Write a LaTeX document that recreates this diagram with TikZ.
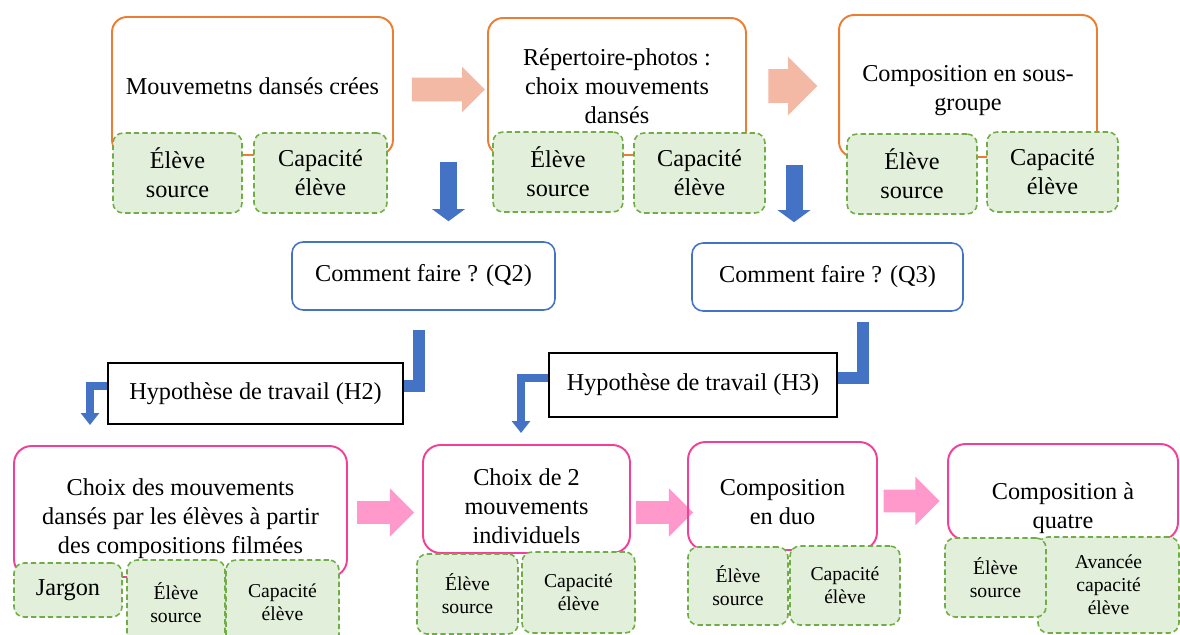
\documentclass[tikz,border=0pt]{standalone}
\usepackage{fontspec}
\setmainfont{Liberation Serif}
\usetikzlibrary{arrows.meta,shapes.arrows}

\definecolor{orangeb}{HTML}{ED7D31}
\definecolor{roseb}{HTML}{F43F97}
\definecolor{saumon}{HTML}{F4B9A5}
\definecolor{rosef}{HTML}{FF99CC}
\definecolor{vertb}{HTML}{70AD47}
\definecolor{vertf}{HTML}{E2EFDA}
\definecolor{bleu}{HTML}{4472C4}

\newcommand\grand{\fontsize{13.8pt}{16.5pt}\selectfont}
\newcommand\petit{\fontsize{11.2pt}{13pt}\selectfont}

\tikzset{
  etape/.style={draw=orangeb,line width=1.1pt,rounded corners=0.3cm,inner sep=0,align=center,font=\grand},
  etapeb/.style={draw=roseb,line width=1.1pt,rounded corners=0.35cm,inner sep=0,align=center,font=\grand},
  critere/.style={draw=vertb,fill=vertf,dash pattern=on 3pt off 1.8pt,line width=0.9pt,rounded corners=0.2cm,inner sep=0,align=center,font=\grand},
  question/.style={draw=bleu,line width=0.9pt,rounded corners=0.22cm,inner sep=0,font=\grand},
  hypo/.style={draw=black,line width=1.1pt,inner sep=0,font=\grand},
  passage/.style={single arrow,fill=saumon,inner xsep=0,inner ysep=0.23cm,single arrow head extend=0.22cm},
  passageb/.style={passage,fill=rosef,inner ysep=0.22cm,single arrow head extend=0.26cm},
  descente/.style={draw=bleu,line width=0.34cm,shorten >=0.4cm,-{Triangle[width=0.64cm,length=0.24cm]}},
  coude/.style={draw=bleu,line width=0.24cm,line join=miter},
  coudefl/.style={draw=bleu,line width=0.16cm,line join=miter,-{Triangle[width=0.36cm,length=0.24cm]}}
}

\begin{document}
\begin{tikzpicture}[x=0.02cm,y=-0.02cm]
  \useasboundingbox (0,0) rectangle (1180,635);

  \node[etape,minimum width=5.62cm,minimum height=2.76cm] (mvt) at (252.5,86) {Mouvemetns dansés crées};
  \node[critere,minimum width=2.58cm,minimum height=1.6cm] (mvtsrc) at (177.5,173) {Élève\\source};
  \node[critere,minimum width=2.66cm,minimum height=1.6cm] (mvtcap) at (320.5,173) {Capacité\\élève};

  \node[etape,minimum width=5.16cm,minimum height=2.74cm] (rep) at (617,86.5) {Répertoire-photos :\\choix mouvements\\dansés};
  \node[critere,minimum width=2.6cm,minimum height=1.6cm] (repsrc) at (558,172) {Élève\\source};
  \node[critere,minimum width=2.62cm,minimum height=1.6cm] (repcap) at (699.5,173) {Capacité\\élève};

  \node[etape,minimum width=5.16cm,minimum height=2.84cm] (compo) at (968,86) {\rule{0pt}{0.5cm}Composition en sous-\\groupe};
  \node[critere,minimum width=2.6cm,minimum height=1.6cm] (composrc) at (912,174) {Élève\\source};
  \node[critere,minimum width=2.62cm,minimum height=1.6cm] (compocap) at (1052.5,172) {Capacité\\élève};

  \node[passage,minimum height=1.46cm] (p1) at (442.5,89.5) {};
  \node[passage,minimum height=0.98cm,inner ysep=0.33cm,single arrow head extend=0.25cm] (p2) at (784.5,86) {};

  \node[question,minimum width=5.26cm,minimum height=1.36cm] (q2) at (423.5,276) {Comment faire ? (Q2)};
  \node[question,minimum width=5.42cm,minimum height=1.36cm] (q3) at (827.5,277) {Comment faire ? (Q3)};

  \coordinate (d1) at (448.5,162);
  \coordinate (d2) at (794,165);
  \draw[descente] (d1) -- (d1 |- q2.north);
  \draw[descente] (d2) -- (d2 |- q3.north);

  \node[hypo,minimum width=5.9cm,minimum height=1.22cm] (h2) at (255.5,393.5) {Hypothèse de travail (H2)};
  \node[hypo,minimum width=5.76cm,minimum height=1.28cm] (h3) at (693,385) {Hypothèse de travail (H3)};

  \coordinate (h2haut) at (418.5,330);
  \coordinate (h3haut) at (862.5,322);
  \coordinate (h2bas) at (90,425);
  \coordinate (h3bas) at (521,433);
  \draw[coude] (h2haut) |- ([yshift=0.15cm]h2.east);
  \draw[coude] (h3haut) |- ([yshift=0.14cm]h3.east);
  \draw[coudefl] ([yshift=0.15cm]h2.west) -| (h2bas);
  \draw[coudefl] ([yshift=0.14cm]h3.west) -| (h3bas);

  \node[etapeb,minimum width=6.66cm,minimum height=2.62cm] (choix) at (180.5,511.5) {\rule{0pt}{0.62cm}Choix des mouvements\\dansés par les élèves à partir\\des compositions filmées};
  \node[critere,minimum width=2.16cm,minimum height=1.08cm] (jargon) at (68,590) {Jargon};
  \node[critere,minimum width=1.96cm,minimum height=1.7cm,font=\petit] (choixsrc) at (176,602.5) {Élève\\source};
  \node[critere,minimum width=2.26cm,minimum height=1.7cm,font=\petit] (choixcap) at (282.5,602.5) {Capacité\\élève};

  \node[passageb,minimum height=1.14cm] (p3) at (380,512.5) {};

  \node[etapeb,minimum width=4.14cm,minimum height=2.16cm] (indiv) at (526.5,499) {\rule{0pt}{0.64cm}Choix de 2\\mouvements\\individuels};
  \node[critere,minimum width=2.02cm,minimum height=1.6cm,font=\petit] (indivsrc) at (467.5,594) {Élève\\source};
  \node[critere,minimum width=2.26cm,minimum height=1.62cm,font=\petit] (indivcap) at (578.5,592.5) {Capacité\\élève};

  \node[passageb,minimum height=1.14cm] (p4) at (659,512.5) {};

  \node[etapeb,minimum width=3.78cm,minimum height=2.16cm] (duo) at (782.5,496) {\rule{0pt}{0.56cm}Composition\\en duo};
  \node[critere,minimum width=2cm,minimum height=1.56cm,font=\petit] (duosrc) at (738,586) {Élève\\source};
  \node[critere,minimum width=2.2cm,minimum height=1.58cm,font=\petit] (duocap) at (845,585.5) {Capacité\\élève};

  \node[passageb,minimum height=1.12cm] (p5) at (906,501) {};

  \node[etapeb,minimum width=4.6cm,minimum height=1.92cm] (quatre) at (1063,492) {\rule{0pt}{1cm}Composition à\\quatre};
  \node[critere,minimum width=2.82cm,minimum height=1.92cm,font=\petit] (quatrecap) at (1108.5,585) {Avancée\\capacité\\élève};
  \node[critere,minimum width=2.02cm,minimum height=1.58cm,font=\petit] (quatresrc) at (995.5,577.5) {Élève\\source};
\end{tikzpicture}
\end{document}
